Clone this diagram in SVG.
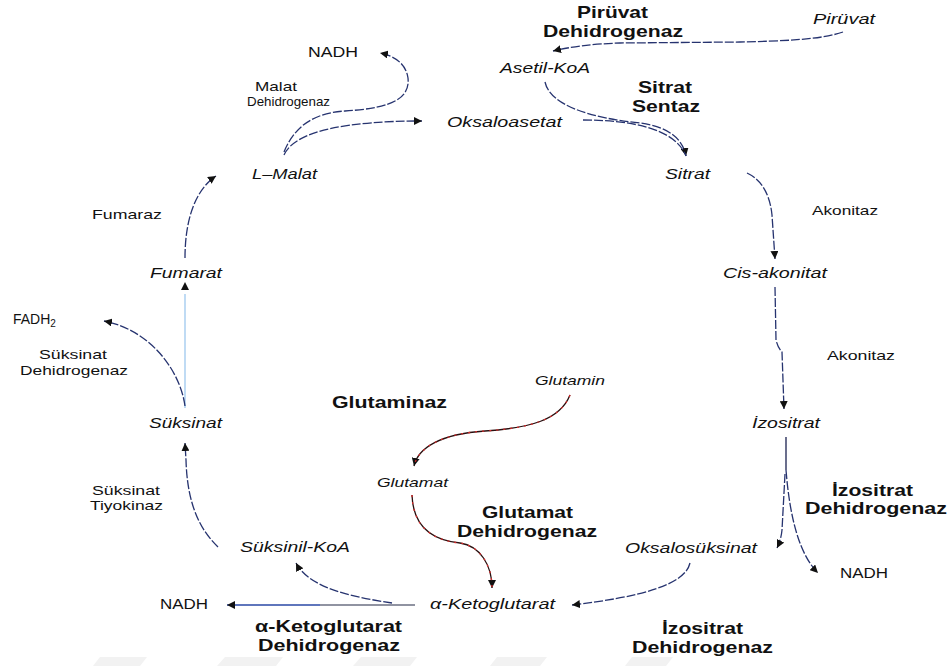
<svg xmlns="http://www.w3.org/2000/svg" width="949" height="666" viewBox="0 0 949 666">
<style>
text{font-family:"Liberation Sans",Arial,sans-serif;fill:#111}
.n{font-style:italic;font-size:15px}
.ns{font-style:italic;font-size:13px}
.r{font-size:13px}
.b{font-size:17px;font-weight:bold}
.bs{font-size:16px;font-weight:bold}
.c{fill:none;stroke:#26336f;stroke-width:1.3;stroke-dasharray:9 2}
.cs{fill:none;stroke:#1b2150;stroke-width:1.3}
.lb{fill:none;stroke:#b0d2f2;stroke-width:1.6}
.rd{fill:none;stroke:#2a1010;stroke-width:1.3}
.rdd{fill:none;stroke:#d42a2a;stroke-width:1.3;stroke-dasharray:2 5}
.wm{fill:#f2f2f2}
</style>
<defs>
<marker id="ah" markerWidth="8" markerHeight="8" refX="8" refY="4" orient="auto" markerUnits="userSpaceOnUse">
<path d="M0,0 L8,4 L0,8 z" fill="#111"/>
</marker>
</defs>
<rect width="949" height="666" fill="#fff"/>
<g id="watermark">
<path class="wm" d="M100,657 L147,657 L140,666 L93,666 z"/>
<path class="wm" d="M225,657 L283,657 L276,666 L217,666 z"/>
<path class="wm" d="M361,657 L417,657 L410,666 L353,666 z"/>
<path class="wm" d="M497,657 L547,657 L540,666 L490,666 z"/>
<path class="wm" d="M632,657 L673,657 L666,666 L625,666 z"/>
</g>
<g id="connectors">
<path class="c" d="M843,32 C 820,40 780,41 740,42 L 620,43 C 590,44 570,47 553,51" marker-end="url(#ah)"/>
<path class="c" d="M545,82 C 550,105 590,118 640,123 C 670,127 683,140 686,156" marker-end="url(#ah)"/>
<path class="c" d="M583,120 C 630,120 675,128 686,156"/>
<path class="c" d="M284,155 C 295,130 350,121 422,121" marker-end="url(#ah)"/>
<path class="c" d="M284,152 C 295,125 315,113 345,111 C 395,108 410,97 408,78 C 406,64 395,56 380,53" marker-end="url(#ah)"/>
<path class="c" d="M747,173 C 762,180 770,195 772,215 L 775,259" marker-end="url(#ah)"/>
<path class="c" d="M775,287 L 776,340 Q 778,348 782,352 L 784,409" marker-end="url(#ah)"/>
<path class="cs" d="M786,437 L 786,470"/>
<path class="c" d="M785,474 L 782,530 Q 781,540 777,548" marker-end="url(#ah)"/>
<path class="c" d="M786,470 C 790,520 800,555 818,573" marker-end="url(#ah)"/>
<path class="c" d="M690,563 C 685,585 640,597 572,605" marker-end="url(#ah)"/>
<path fill="none" stroke="#6b6f82" stroke-width="1.5" d="M415,605 L 320,605"/>
<path fill="none" stroke="#2a48a6" stroke-width="1.5" d="M320,605 L 227,605" marker-end="url(#ah)"/>
<path class="c" d="M392,603 C 360,598 310,590 296,563" marker-end="url(#ah)"/>
<path class="c" d="M218,547 C 195,525 187,495 186,460 L 185,443" marker-end="url(#ah)"/>
<path class="lb" d="M185,408 L 185,294"/>
<path d="M181,290 L185,282 L189,290 z" fill="#111"/>
<path class="c" d="M185,406 C 180,370 150,330 104,321" marker-end="url(#ah)"/>
<path class="c" d="M185,258 C 185,220 195,190 216,176" marker-end="url(#ah)"/>
<path class="rd" d="M570,395 C 560,420 530,428 485,431 C 440,434 418,448 414,466" marker-end="url(#ah)"/>
<path class="rdd" d="M570,395 C 560,420 530,428 485,431 C 440,434 418,448 414,466"/>
<path class="rd" d="M412,495 C 413,525 430,540 460,543 C 480,546 492,565 492,588" marker-end="url(#ah)"/>
<path class="rdd" d="M412,495 C 413,525 430,540 460,543 C 480,546 492,565 492,588"/>
</g>
<g id="pyruvate"><text class="n" x="813" y="24" textLength="62" lengthAdjust="spacingAndGlyphs">Pirüvat</text></g>
<g id="acetylcoa"><text class="n" x="500" y="73" textLength="90" lengthAdjust="spacingAndGlyphs">Asetil-KoA</text></g>
<g id="oxaloacetate"><text class="n" x="447" y="127" textLength="115" lengthAdjust="spacingAndGlyphs">Oksaloasetat</text></g>
<g id="citrate"><text class="n" x="665" y="179" textLength="45" lengthAdjust="spacingAndGlyphs">Sitrat</text></g>
<g id="lmalate"><text class="n" x="252" y="179" textLength="65" lengthAdjust="spacingAndGlyphs">L–Malat</text></g>
<g id="cisaconitate"><text class="n" x="723" y="278" textLength="104" lengthAdjust="spacingAndGlyphs">Cis-akonitat</text></g>
<g id="fumarate"><text class="n" x="150" y="278" textLength="72" lengthAdjust="spacingAndGlyphs">Fumarat</text></g>
<g id="isocitrate"><text class="n" x="752" y="428" textLength="68" lengthAdjust="spacingAndGlyphs">İzositrat</text></g>
<g id="succinate"><text class="n" x="149" y="428" textLength="73" lengthAdjust="spacingAndGlyphs">Süksinat</text></g>
<g id="glutamine"><text class="ns" x="535" y="385" textLength="70" lengthAdjust="spacingAndGlyphs">Glutamin</text></g>
<g id="glutamate"><text class="ns" x="377" y="487" textLength="71" lengthAdjust="spacingAndGlyphs">Glutamat</text></g>
<g id="succinylcoa"><text class="n" x="240" y="552" textLength="110" lengthAdjust="spacingAndGlyphs">Süksinil-KoA</text></g>
<g id="oxalosuccinate"><text class="n" x="625" y="553" textLength="132" lengthAdjust="spacingAndGlyphs">Oksalosüksinat</text></g>
<g id="akg"><text class="n" x="430" y="609" textLength="125" lengthAdjust="spacingAndGlyphs">α-Ketoglutarat</text></g>
<g id="nadh1"><text class="r" style="font-size:14px" x="308" y="57" textLength="50" lengthAdjust="spacingAndGlyphs">NADH</text></g>
<g id="nadh2"><text class="r" style="font-size:14px" x="840" y="578" textLength="48" lengthAdjust="spacingAndGlyphs">NADH</text></g>
<g id="nadh3"><text class="r" style="font-size:14px" x="160" y="609" textLength="48" lengthAdjust="spacingAndGlyphs">NADH</text></g>
<g id="fadh2"><text class="r" style="font-size:14px" x="13" y="324">FADH<tspan font-size="10" dy="3">2</tspan></text></g>
<g id="labels">
<text class="r" x="255" y="91" textLength="42" lengthAdjust="spacingAndGlyphs">Malat</text>
<text class="r" x="247" y="106" textLength="83" lengthAdjust="spacingAndGlyphs">Dehidrogenaz</text>
<text class="r" x="812" y="215" textLength="66" lengthAdjust="spacingAndGlyphs">Akonitaz</text>
<text class="r" x="827" y="360" textLength="68" lengthAdjust="spacingAndGlyphs">Akonitaz</text>
<text class="r" x="92" y="219" textLength="70" lengthAdjust="spacingAndGlyphs">Fumaraz</text>
<text class="r" x="39" y="359" textLength="68" lengthAdjust="spacingAndGlyphs">Süksinat</text>
<text class="r" x="20" y="375" textLength="108" lengthAdjust="spacingAndGlyphs">Dehidrogenaz</text>
<text class="r" x="92" y="495" textLength="68" lengthAdjust="spacingAndGlyphs">Süksinat</text>
<text class="r" x="90" y="510" textLength="73" lengthAdjust="spacingAndGlyphs">Tiyokinaz</text>
<text class="b" x="577" y="18" textLength="71" lengthAdjust="spacingAndGlyphs">Pirüvat</text>
<text class="b" x="543" y="37" textLength="140" lengthAdjust="spacingAndGlyphs">Dehidrogenaz</text>
<text class="b" x="638" y="93" textLength="54" lengthAdjust="spacingAndGlyphs">Sitrat</text>
<text class="b" x="632" y="112" textLength="68" lengthAdjust="spacingAndGlyphs">Sentaz</text>
<text class="b" x="332" y="408" textLength="115" lengthAdjust="spacingAndGlyphs">Glutaminaz</text>
<text class="b" x="482" y="518" textLength="91" lengthAdjust="spacingAndGlyphs">Glutamat</text>
<text class="b" x="457" y="537" textLength="140" lengthAdjust="spacingAndGlyphs">Dehidrogenaz</text>
<text class="b" x="832" y="496" textLength="81" lengthAdjust="spacingAndGlyphs">İzositrat</text>
<text class="b" x="805" y="514" textLength="142" lengthAdjust="spacingAndGlyphs">Dehidrogenaz</text>
<text class="bs" x="255" y="632" textLength="147" lengthAdjust="spacingAndGlyphs">α-Ketoglutarat</text>
<text class="bs" x="258" y="651" textLength="142" lengthAdjust="spacingAndGlyphs">Dehidrogenaz</text>
<text class="bs" x="662" y="634" textLength="81" lengthAdjust="spacingAndGlyphs">İzositrat</text>
<text class="bs" x="632" y="653" textLength="141" lengthAdjust="spacingAndGlyphs">Dehidrogenaz</text>
</g>
</svg>
